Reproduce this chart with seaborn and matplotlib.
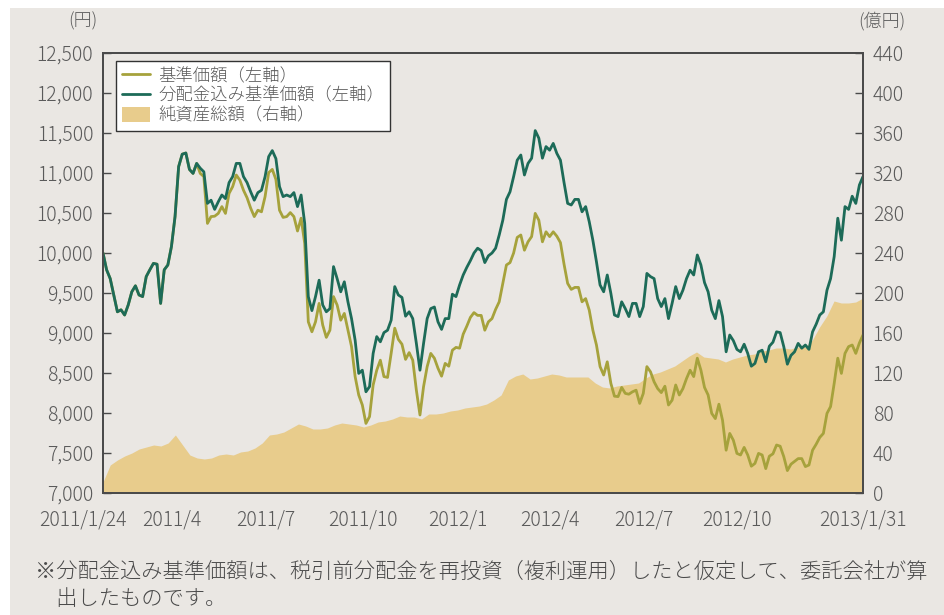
import pandas as pd
import matplotlib.pyplot as plt
import seaborn as sns
from matplotlib.patches import Rectangle
from matplotlib.transforms import ScaledTranslation

# 分配金込み基準価額（円） at half-week steps
NAV_REINVESTED = [
    10000, 9790, 9680, 9475, 9265, 9290, 9225, 9350, 9515, 9590,
    9475, 9455, 9705, 9790, 9870, 9860, 9370, 9790, 9850, 10080,
    10455, 11080, 11235, 11250, 11045, 10995, 11120, 11060, 11015, 10620,
    10660, 10545, 10640, 10725, 10680, 10880, 10955, 11120, 11120, 10955,
    10880, 10765, 10660, 10755, 10785, 10955, 11205, 11280, 11180, 10830,
    10705, 10725, 10705, 10755, 10580, 10725, 10370, 9455, 9280, 9455,
    9660, 9350, 9265, 9305, 9830, 9680, 9515, 9640, 9390, 9180,
    8910, 8495, 8535, 8265, 8330, 8745, 8955, 8890, 9005, 9035,
    9160, 9580, 9475, 9445, 9210, 9265, 9180, 8870, 8535, 8870,
    9180, 9305, 9325, 9140, 9045, 9180, 9180, 9485, 9455, 9600,
    9725, 9820, 9905, 10000, 10060, 10030, 9880, 9965, 10000, 10060,
    10225, 10410, 10670, 10765, 10955, 11160, 11225, 10975, 11120, 11185,
    11530, 11435, 11185, 11330, 11285, 11370, 11245, 11160, 10880, 10620,
    10600, 10670, 10670, 10515, 10580, 10390, 10160, 9890, 9600, 9515,
    9725, 9495, 9225, 9205, 9390, 9305, 9205, 9370, 9370, 9205,
    9330, 9745, 9705, 9680, 9430, 9330, 9430, 9180, 9370, 9580,
    9430, 9535, 9680, 9785, 9725, 9975, 9850, 9630, 9515, 9285,
    9180, 9405, 9205, 8765, 8975, 8905, 8795, 8765, 8860, 8745,
    8585, 8620, 8765, 8785, 8640, 8835, 8885, 9015, 9005, 8830,
    8610, 8720, 8765, 8870, 8810, 8850, 8795, 9015, 9110, 9225,
    9265, 9535, 9680, 9955, 10435, 10160, 10580, 10545, 10710, 10620,
    10850, 10955,
]

# 基準価額（円）
NAV = [
    10000, 9790, 9680, 9475, 9265, 9290, 9225, 9350, 9515, 9590,
    9475, 9455, 9705, 9790, 9870, 9860, 9370, 9790, 9850, 10080,
    10455, 11080, 11235, 11250, 11045, 10995, 11120, 10995, 10955, 10370,
    10455, 10460, 10495, 10580, 10495, 10745, 10830, 10975, 10910, 10785,
    10690, 10560, 10455, 10535, 10515, 10705, 11005, 11045, 10920, 10535,
    10445, 10455, 10505, 10455, 10275, 10435, 10120, 9140, 9015, 9140,
    9370, 9100, 8945, 9035, 9455, 9350, 9160, 9245, 9035, 8830,
    8455, 8225, 8100, 7870, 7955, 8350, 8535, 8660, 8455, 8445,
    8745, 9060, 8920, 8860, 8670, 8755, 8660, 8285, 7975, 8330,
    8580, 8745, 8685, 8560, 8460, 8620, 8585, 8785, 8820, 8810,
    8985, 9085, 9195, 9255, 9220, 9220, 9035, 9140, 9180, 9295,
    9390, 9620, 9850, 9880, 10000, 10195, 10225, 10035, 10140, 10205,
    10495, 10410, 10140, 10265, 10205, 10265, 10210, 10130, 9860, 9620,
    9545, 9570, 9570, 9390, 9430, 9285, 9035, 8850, 8580, 8475,
    8640, 8370, 8210, 8205, 8320, 8245, 8235, 8265, 8285, 8120,
    8245, 8580, 8515, 8390, 8305, 8255, 8335, 8100, 8160, 8350,
    8225, 8305, 8430, 8535, 8455, 8685, 8535, 8320, 8225, 7995,
    7930, 8110, 7910, 7535, 7745, 7660, 7495, 7475, 7570, 7475,
    7335, 7370, 7495, 7475, 7305, 7460, 7490, 7600, 7585, 7455,
    7280, 7360, 7395, 7430, 7430, 7330, 7350, 7535, 7610, 7695,
    7745, 7995, 8080, 8370, 8685, 8495, 8745, 8830, 8850, 8745,
    8875, 8975,
]

# 純資産総額（億円）, weekly
AUM = [
    11, 28, 33, 37, 40, 44, 46, 48, 47, 50,
    58, 48, 38, 35, 34, 35, 38, 39, 38, 41,
    42, 45, 50, 58, 59, 61, 65, 69, 67, 64,
    64, 65, 68, 70, 69, 68, 66, 68, 71, 72,
    74, 77, 76, 76, 74, 79, 79, 80, 82, 83,
    85, 86, 87, 89, 93, 98, 113, 117, 119, 114,
    115, 117, 119, 118, 116, 116, 116, 116, 110, 106,
    105, 107, 108, 109, 110, 115, 119, 121, 124, 127,
    132, 137, 141, 136, 135, 134, 131, 134, 136, 138,
    139, 142, 143, 145, 145, 144, 146, 146, 153, 166,
    177, 192, 190, 190, 191, 195,
]

START, END = "2011-01-24", "2013-01-31"
TICK_DATES  = ["2011-01-24", "2011-04-01", "2011-07-01", "2011-10-03", "2012-01-04",
               "2012-04-02", "2012-07-02", "2012-10-01", "2013-01-31"]
TICK_LABELS = ["2011/1/24", "2011/4", "2011/7", "2011/10", "2012/1",
               "2012/4", "2012/7", "2012/10", "2013/1/31"]
LEFT_TICKS  = list(range(7000, 12501, 500))
RIGHT_TICKS = list(range(0, 441, 40))

LABELS = ["基準価額（左軸）", "分配金込み基準価額（左軸）", "純資産総額（右軸）"]
NOTE = "※分配金込み基準価額は、税引前分配金を再投資（複利運用）したと仮定して、委託会社が算\n　出したものです。"

C_NAV   = "#a6a23c"
C_REINV = "#1d6b58"
C_AUM   = "#e8cc8c"
C_BG    = "#eae7e3"
C_TEXT  = "#5a5a5a"
C_AXIS  = "#4a4a4a"

sns.set_theme(style="white")
plt.rcParams["font.family"] = ["Noto Sans CJK JP", "DejaVu Sans"]
plt.rcParams["font.weight"] = "light"

line_dates = pd.date_range(START, END, periods=len(NAV))
aum_dates  = pd.date_range(START, END, periods=len(AUM))

fig = plt.figure(figsize=(9.45, 6.15), dpi=100)
fig.patch.set_facecolor("white")
fig.patches.append(Rectangle((10 / 945, 0), 1, 607 / 615, transform=fig.transFigure,
                             facecolor=C_BG, edgecolor="none", zorder=-10))

ax = fig.add_axes([103 / 945, 122 / 615, 760 / 945, 440 / 615])
ax2 = ax.twinx()
ax.set_zorder(ax2.get_zorder() + 1)
ax.patch.set_visible(False)
ax2.set_facecolor("white")

aum_fill = ax2.fill_between(aum_dates, AUM, 0, color=C_AUM, linewidth=0)
sns.lineplot(x=line_dates, y=NAV, ax=ax, color=C_NAV, linewidth=2.0)
sns.lineplot(x=line_dates, y=NAV_REINVESTED, ax=ax, color=C_REINV, linewidth=2.0)

ax.set_xlim(pd.Timestamp(START), pd.Timestamp(END))
ax.set_ylim(7000, 12500)
ax2.set_ylim(0, 440)

ax.set_yticks(LEFT_TICKS)
ax.set_yticklabels([f"{v:,}" for v in LEFT_TICKS])
ax2.set_yticks(RIGHT_TICKS)
ax2.set_yticklabels([str(v) for v in RIGHT_TICKS])
ax.set_xticks(pd.to_datetime(TICK_DATES))
ax.set_xticklabels(TICK_LABELS)

for a in (ax, ax2):
    a.tick_params(direction="in", length=6, width=1, color=C_AXIS,
                  labelcolor=C_TEXT, labelsize=14)
    for s in a.spines.values():
        s.set_color(C_AXIS)
        s.set_linewidth(1.3)
ax.tick_params(axis="y", pad=7)
ax2.tick_params(axis="y", pad=7)
ax.tick_params(axis="x", pad=12)
ax.set_xlabel("")
ax.set_ylabel("")

# first label is pushed left so it doesn't run into "2011/4"
first = ax.get_xticklabels()[0]
first.set_transform(first.get_transform() + ScaledTranslation(-20 / 100, 0, fig.dpi_scale_trans))

fig.text(97 / 945, 1 - 21 / 615, "(円)", ha="right", va="center", fontsize=13, color=C_TEXT)
fig.text(906 / 945, 1 - 21 / 615, "(億円)", ha="right", va="center", fontsize=13, color=C_TEXT)

handles = [ax.lines[0], ax.lines[1], aum_fill]
leg = ax.legend(handles, LABELS, loc="upper left", bbox_to_anchor=(0.017, 0.982),
                borderaxespad=0, fontsize=12.5, frameon=True, fancybox=False,
                handlelength=1.6, handleheight=1.0, handletextpad=0.5,
                labelspacing=0.1, borderpad=0.35, labelcolor=C_TEXT)
leg.get_frame().set_edgecolor("#333333")
leg.get_frame().set_linewidth(1.0)
leg.get_frame().set_facecolor("white")
leg.get_frame().set_alpha(1)

fig.text(35 / 945, 1 - 585 / 615, NOTE, ha="left", va="center", fontsize=15.3,
         color="#4a4a4a", linespacing=1.3)

fig.savefig("out.png", dpi=100)
plt.close(fig)
